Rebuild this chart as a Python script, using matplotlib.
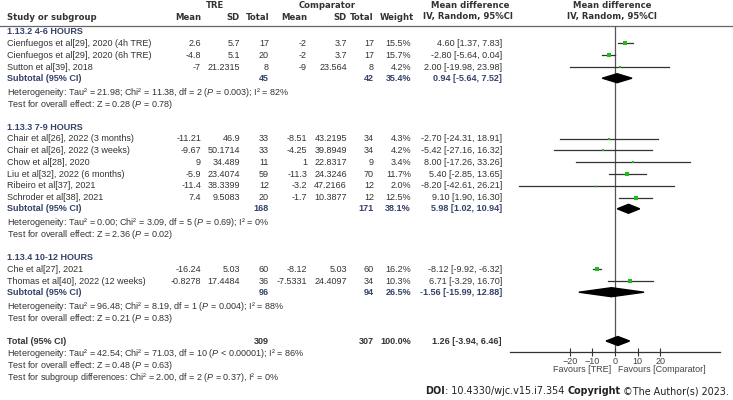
import matplotlib.pyplot as plt
from matplotlib.patches import Polygon

plt.rcParams['mathtext.fontset'] = 'custom'
plt.rcParams['mathtext.rm'] = 'Liberation Sans'
plt.rcParams['mathtext.it'] = 'Liberation Sans:italic'

BODY = 'Liberation Sans'
HEAD = 'DejaVu Sans'
TXT = '#333333'
SUB = '#34426b'
GREEN = '#19c019'

# studies (in display order)
studies = ['Cienfuegos et al[29], 2020 (4h TRE)', 'Cienfuegos et al[29], 2020 (6h TRE)',
           'Sutton et al[39], 2018',
           'Chair et al[26], 2022 (3 months)', 'Chair et al[26], 2022 (3 weeks)',
           'Chow et al[28], 2020', 'Liu et al[32], 2022 (6 months)',
           'Ribeiro et al[37], 2021', 'Schroder et al[38], 2021',
           'Che et al[27], 2021', 'Thomas et al[40], 2022 (12 weeks)']
study_group = [0, 0, 0, 1, 1, 1, 1, 1, 1, 2, 2]
tre_mean = [2.6, -4.8, -7, -11.21, -9.67, 9, -5.9, -11.4, 7.4, -16.24, -0.8278]
tre_sd = [5.7, 5.1, 21.2315, 46.9, 50.1714, 34.489, 23.4074, 38.3399, 9.5083, 5.03, 17.4484]
tre_n = [17, 20, 8, 33, 33, 11, 59, 12, 20, 60, 36]
cmp_mean = [-2, -2, -9, -8.51, -4.25, 1, -11.3, -3.2, -1.7, -8.12, -7.5331]
cmp_sd = [3.7, 3.7, 23.564, 43.2195, 39.8949, 22.8317, 24.3246, 47.2166, 10.3877, 5.03, 24.4097]
cmp_n = [17, 17, 8, 34, 34, 9, 70, 12, 12, 60, 34]
weight = [15.5, 15.7, 4.2, 4.3, 4.2, 3.4, 11.7, 2.0, 12.5, 16.2, 10.3]
md = [4.60, -2.80, 2.00, -2.70, -5.42, 8.00, 5.40, -8.20, 9.10, -8.12, 6.71]
ci_lo = [1.37, -5.64, -19.98, -24.31, -27.16, -17.26, -2.85, -42.61, 1.90, -9.92, -3.29]
ci_hi = [7.83, 0.04, 23.98, 18.91, 16.32, 33.26, 13.65, 26.21, 16.30, -6.32, 16.70]

# subgroups
groups = ['1.13.2 4-6 HOURS', '1.13.3 7-9 HOURS', '1.13.4 10-12 HOURS']
sub_n_tre = [45, 168, 96]
sub_n_cmp = [42, 171, 94]
sub_weight = [35.4, 38.1, 26.5]
sub_md = [0.94, 5.98, -1.56]
sub_lo = [-5.64, 1.02, -15.99]
sub_hi = [7.52, 10.94, 12.88]
sub_tau2 = ['21.98', '0.00', '96.48']
sub_chi2 = ['11.38', '3.09', '8.19']
sub_df = [2, 5, 1]
sub_p = ['= 0.003', '= 0.69', '= 0.004']
sub_i2 = [82, 0, 88]
sub_z = ['0.28', '2.36', '0.21']
sub_pz = ['0.78', '0.02', '0.83']

# overall
tot_n_tre, tot_n_cmp, tot_weight = 309, 307, 100.0
tot_md, tot_lo, tot_hi = 1.26, -3.94, 6.46
tot_tau2, tot_chi2, tot_df, tot_p, tot_i2 = '42.54', '71.03', 10, '< 0.00001', 86
tot_z, tot_pz = '0.48', '0.63'
diff_chi2, diff_df, diff_p, diff_i2 = '2.00', 2, '0.37', 0

xticks = [-20, -10, 0, 10, 20]

# column right edges (pixels)
X_NAME = 7
COLS = [201, 240, 269, 307, 347, 374]
X_W = 411
X_CI = 502
FS = 6.5
HS = 6.1

fig = plt.figure(figsize=(7.33, 4.0), dpi=100)
ax = fig.add_axes([0, 0, 1, 1])
ax.set_xlim(0, 733)
ax.set_ylim(400, 0)
ax.axis('off')

# forest axes aligned to pixel rows
Y_TOP, Y_AX = 25.5, 351.5
fx = fig.add_axes([510 / 733, (400 - Y_AX) / 400, 210 / 733, (Y_AX - Y_TOP) / 400])
fx.patch.set_alpha(0)
fx.set_xlim(-46.5, 46.5)
fx.set_ylim(Y_AX, Y_TOP)
for s in ['top', 'left', 'right']:
    fx.spines[s].set_visible(False)
fx.spines['bottom'].set_color('#333333')
fx.spines['bottom'].set_linewidth(0.9)
fx.set_yticks([])
fx.set_xticks(xticks)
fx.tick_params(axis='x', direction='inout', length=6, width=0.8, color='#333333',
               labelsize=FS, labelcolor='#444444', pad=1)
for lab in fx.get_xticklabels():
    lab.set_family(BODY)
fx.axvline(0, color='#555555', lw=0.9, zorder=1)


def t(x, y, s, ha='left', bold=False, color=TXT, family=BODY, size=FS):
    ax.text(x, y, s, ha=ha, va='center', fontsize=size, family=family,
            fontweight='bold' if bold else 'normal', color=color)


def diamond(y, m, lo, hi, h=4.5):
    fx.add_patch(Polygon([(lo, y), (m, y - h), (hi, y), (m, y + h)],
                         closed=True, color='black', zorder=3))


# header
t(215, 5.5, 'TRE', ha='center', bold=True, family=HEAD, size=HS)
t(327, 5.5, 'Comparator', ha='center', bold=True, family=HEAD, size=HS)
t(470, 5.5, 'Mean difference', ha='center', bold=True, family=HEAD, size=HS)
t(612, 5.5, 'Mean difference', ha='center', bold=True, family=HEAD, size=HS)
t(X_NAME, 17, 'Study or subgroup', bold=True, family=HEAD, size=HS)
for x, s in zip(COLS, ['Mean', 'SD', 'Total', 'Mean', 'SD', 'Total']):
    t(x, 17, s, ha='right', bold=True, family=HEAD, size=HS)
t(414, 17, 'Weight', ha='right', bold=True, family=HEAD, size=HS)
t(468, 17, 'IV, Random, 95%CI', ha='center', bold=True, family=HEAD, size=HS)
t(612, 17, 'IV, Random, 95%CI', ha='center', bold=True, family=HEAD, size=HS)
ax.plot([0, 733], [Y_TOP, Y_TOP], color='#666666', lw=0.9)

y = 31.8
for g, gname in enumerate(groups):
    t(X_NAME, y, gname, bold=True, color=SUB)
    y += 11.6
    for i in [k for k, sg in enumerate(study_group) if sg == g]:
        t(X_NAME, y, studies[i])
        vals = [tre_mean[i], tre_sd[i], tre_n[i], cmp_mean[i], cmp_sd[i], cmp_n[i]]
        for x, v in zip(COLS, vals):
            t(x, y, f'{v:g}', ha='right')
        t(X_W, y, f'{weight[i]:.1f}%', ha='right')
        t(X_CI, y, f'{md[i]:.2f} [{ci_lo[i]:.2f}, {ci_hi[i]:.2f}]', ha='right')
        fx.plot([ci_lo[i], ci_hi[i]], [y, y], color='#333333', lw=0.9, zorder=2)
        fx.plot(md[i], y, 's', ms=0.85 * weight[i] ** 0.5, color=GREEN,
                mew=0, zorder=3)
        y += 11.8
    y -= 0.6
    t(X_NAME, y, 'Subtotal (95% CI)', bold=True, color=SUB)
    t(COLS[2], y, f'{sub_n_tre[g]}', ha='right', bold=True, color=SUB)
    t(COLS[5], y, f'{sub_n_cmp[g]}', ha='right', bold=True, color=SUB)
    t(X_W, y, f'{sub_weight[g]:.1f}%', ha='right', bold=True, color=SUB)
    t(X_CI, y, f'{sub_md[g]:.2f} [{sub_lo[g]:.2f}, {sub_hi[g]:.2f}]', ha='right',
      bold=True, color=SUB)
    diamond(y, sub_md[g], sub_lo[g], sub_hi[g])
    y += 14
    t(X_NAME, y, f'Heterogeneity: Tau\u00b2 = {sub_tau2[g]}; Chi\u00b2 = {sub_chi2[g]}, '
      f'df = {sub_df[g]} ($\\mathit{{P}}$ {sub_p[g]}); I\u00b2 = {sub_i2[g]}%')
    y += 12
    t(X_NAME, y, f'Test for overall effect: Z = {sub_z[g]} ($\\mathit{{P}}$ = {sub_pz[g]})')
    y += 22.8

t(X_NAME, y, 'Total (95% CI)', bold=True)
t(COLS[2], y, f'{tot_n_tre}', ha='right', bold=True)
t(COLS[5], y, f'{tot_n_cmp}', ha='right', bold=True)
t(X_W, y, f'{tot_weight:.1f}%', ha='right', bold=True)
t(X_CI, y, f'{tot_md:.2f} [{tot_lo:.2f}, {tot_hi:.2f}]', ha='right', bold=True)
diamond(y, tot_md, tot_lo, tot_hi)
y += 12.3
t(X_NAME, y, f'Heterogeneity: Tau\u00b2 = {tot_tau2}; Chi\u00b2 = {tot_chi2}, '
  f'df = {tot_df} ($\\mathit{{P}}$ {tot_p}); I\u00b2 = {tot_i2}%')
y += 12
t(X_NAME, y, f'Test for overall effect: Z = {tot_z} ($\\mathit{{P}}$ = {tot_pz})')
y += 12.3
t(X_NAME, y, f'Test for subgroup differences: Chi\u00b2 = {diff_chi2}, df = {diff_df} '
  f'($\\mathit{{P}}$ = {diff_p}), I\u00b2 = {diff_i2}%')

t(611, 369.5, 'Favours [TRE]', ha='right', color='#444444')
t(618, 369.5, 'Favours [Comparator]', color='#444444')

# footer
doi = ax.text(425, 391, 'DOI', ha='left', va='center', fontsize=6.95, family=HEAD,
              fontweight='bold', color='#222222')
parts = [(': 10.4330/wjc.v15.i7.354 ', 'normal'), ('Copyright', 'bold'),
         (' \u00a9The Author(s) 2023.', 'normal')]
prev = doi
for s, w in parts:
    prev = ax.annotate(s, xy=(1, 0), xycoords=prev, ha='left', va='bottom',
                       fontsize=6.95, family=HEAD, fontweight=w, color='#222222')

fig.savefig('out.png', dpi=100)
